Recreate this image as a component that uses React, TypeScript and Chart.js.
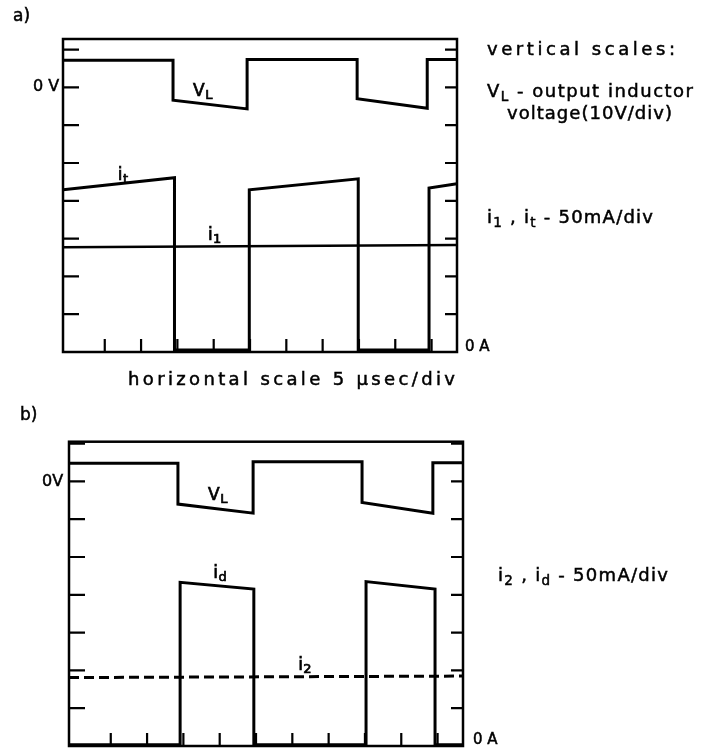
import React, { useEffect, useLayoutEffect, useRef } from "react";
import { Chart, registerables } from "chart.js";
Chart.register(...registerables);

// time axis in divisions (5 µs/div), vertical axis in divisions
const xTicks = [1, 2, 3, 4, 5, 6, 7, 8, 9, 10];
const yTicks = [1, 2, 3, 4, 5, 6, 7, 8];
const xMin = -0.15;
const xMax = 10.7;

// panel a) : V_L, i_t, i_1
const aVLTime = [-0.15, 2.88, 2.88, 4.92, 4.92, 7.95, 7.95, 9.88, 9.88, 10.7];
const aVLValue = [7.72, 7.72, 6.66, 6.43, 7.74, 7.74, 6.7, 6.45, 7.74, 7.74];
const aItTime = [-0.15, 2.92, 2.92, 4.98, 4.98, 7.98, 7.98, 9.93, 9.93, 10.7];
const aItValue = [4.29, 4.61, 0.05, 0.05, 4.29, 4.58, 0.05, 0.05, 4.34, 4.45];
const aI1Time = [-0.15, 10.7];
const aI1Value = [2.77, 2.83];

// panel b) : V_L, i_d, i_2
const bVLTime = [-0.15, 2.85, 2.85, 4.92, 4.92, 7.92, 7.92, 9.87, 9.87, 10.7];
const bVLValue = [7.48, 7.48, 6.4, 6.16, 7.52, 7.52, 6.44, 6.16, 7.49, 7.49];
const bIdTime = [-0.15, 2.91, 2.91, 4.94, 4.94, 8.03, 8.03, 9.93, 9.93, 10.7];
const bIdValue = [0.03, 0.03, 4.33, 4.15, 0.03, 0.03, 4.35, 4.15, 0.03, 0.03];
const bI2Time = [-0.15, 10.7];
const bI2Value = [1.81, 1.85];

// curve labels (data coordinates)
const aLabelMain = ["V", "i", "i"];
const aLabelSub = ["L", "t", "1"];
const aLabelX = [3.43, 1.36, 3.84];
const aLabelY = [6.77, 4.55, 2.96];
const bLabelMain = ["V", "i", "i"];
const bLabelSub = ["L", "d", "2"];
const bLabelX = [3.68, 3.82, 6.16];
const bLabelY = [6.51, 4.44, 2.01];

const FONT = '"DejaVu Sans", "Liberation Sans", sans-serif';

function pts(t: number[], v: number[]) {
  return t.map((x, i) => ({ x, y: v[i] }));
}

function makeFramePlugin(main: string[], sub: string[], lx: number[], ly: number[]) {
  return {
    id: "frameTicks",
    afterDatasetsDraw(chart: any) {
      const { ctx, chartArea, scales } = chart;
      const { left, right, top, bottom } = chartArea;
      const x = scales.x;
      const y = scales.y;
      ctx.save();
      ctx.strokeStyle = "#000";
      ctx.lineWidth = 2.5;
      ctx.strokeRect(left, top, right - left, bottom - top);
      ctx.lineWidth = 2.2;
      ctx.beginPath();
      yTicks.forEach((v) => {
        const py = y.getPixelForValue(v);
        ctx.moveTo(left, py);
        ctx.lineTo(left + 16, py);
        ctx.moveTo(right, py);
        ctx.lineTo(right - 12, py);
      });
      xTicks.forEach((v) => {
        const px = x.getPixelForValue(v);
        ctx.moveTo(px, bottom);
        ctx.lineTo(px, bottom - 13);
      });
      ctx.stroke();
      ctx.fillStyle = "#000";
      ctx.lineWidth = 0.7;
      ctx.textBaseline = "alphabetic";
      main.forEach((m, i) => {
        const px = x.getPixelForValue(lx[i]);
        const py = y.getPixelForValue(ly[i]);
        ctx.font = `17px ${FONT}`;
        ctx.fillText(m, px, py);
        ctx.strokeText(m, px, py);
        const w = ctx.measureText(m).width;
        ctx.font = `13px ${FONT}`;
        ctx.fillText(sub[i], px + w + 0.5, py + 3);
        ctx.strokeText(sub[i], px + w + 0.5, py + 3);
      });
      ctx.restore();
    },
  };
}

function Panel(props: {
  top: number;
  height: number;
  padding: { left: number; right: number; top: number; bottom: number };
  yMax: number;
  datasets: any[];
  main: string[];
  sub: string[];
  lx: number[];
  ly: number[];
}) {
  const ref = useRef<HTMLCanvasElement>(null);
  useEffect(() => {
    if (!ref.current) return;
    const chart = new Chart(ref.current, {
      type: "line",
      data: { datasets: props.datasets },
      options: {
        responsive: false,
        animation: false,
        devicePixelRatio: 1,
        layout: { padding: props.padding },
        plugins: { legend: { display: false }, tooltip: { enabled: false } },
        scales: {
          x: { type: "linear", min: xMin, max: xMax, display: false },
          y: { type: "linear", min: 0, max: props.yMax, display: false },
        },
        elements: { point: { radius: 0 }, line: { tension: 0 } },
      },
      plugins: [makeFramePlugin(props.main, props.sub, props.lx, props.ly)],
    } as any);
    return () => chart.destroy();
  }, []);
  return (
    <canvas
      ref={ref}
      width={711}
      height={props.height}
      style={{ position: "absolute", left: 0, top: props.top, width: 711, height: props.height }}
    />
  );
}

function FitText(props: { x: number; baseline: number; size: number; width?: number; children: any }) {
  const ref = useRef<HTMLDivElement>(null);
  useLayoutEffect(() => {
    const el = ref.current;
    if (!el || !props.width) return;
    el.style.letterSpacing = "0px";
    const natural = el.getBoundingClientRect().width;
    const n = (el.textContent || "").length;
    if (n > 1) el.style.letterSpacing = (props.width - natural) / (n - 1) + "px";
  }, [props.width]);
  return (
    <div
      ref={ref}
      style={{
        position: "absolute",
        left: props.x,
        top: props.baseline - 0.846 * props.size,
        fontSize: props.size,
        lineHeight: 1,
        whiteSpace: "nowrap",
        fontFamily: FONT,
        color: "#000",
        WebkitTextStroke: "0.5px #000",
      }}
    >
      {props.children}
    </div>
  );
}

const Sub = (p: { children: any }) => (
  <span style={{ fontSize: "0.75em", position: "relative", top: "0.3em" }}>{p.children}</span>
);

const line = (t: number[], v: number[], w: number, dash?: number[]) => ({
  data: pts(t, v),
  borderColor: "#000",
  backgroundColor: "#000",
  borderWidth: w,
  borderDash: dash || [],
  fill: false,
  pointRadius: 0,
});

export default function App() {
  const aSets = [line(aVLTime, aVLValue, 3), line(aItTime, aItValue, 3), line(aI1Time, aI1Value, 2.4)];
  const bSets = [line(bVLTime, bVLValue, 3), line(bIdTime, bIdValue, 3), line(bI2Time, bI2Value, 3, [10, 5])];
  return (
    <div style={{ position: "absolute", left: 0, top: 0, width: 711, height: 748, background: "#fff", overflow: "hidden" }}>
      <Panel
        top={0}
        height={372}
        padding={{ left: 63, right: 254, top: 39, bottom: 20 }}
        yMax={8.28}
        datasets={aSets}
        main={aLabelMain}
        sub={aLabelSub}
        lx={aLabelX}
        ly={aLabelY}
      />
      <Panel
        top={380}
        height={368}
        padding={{ left: 69, right: 248, top: 61.7, bottom: 2 }}
        yMax={8.05}
        datasets={bSets}
        main={bLabelMain}
        sub={bLabelSub}
        lx={bLabelX}
        ly={bLabelY}
      />
      <FitText x={13} baseline={21} size={17}>a)</FitText>
      <FitText x={33} baseline={92} size={16}>0 V</FitText>
      <FitText x={465} baseline={352} size={15}>0 A</FitText>
      <FitText x={128} baseline={385} size={18} width={327}>horizontal scale 5 μsec/div</FitText>
      <FitText x={487} baseline={55} size={18} width={188}>vertical scales:</FitText>
      <FitText x={487} baseline={97} size={18} width={206}>
        V<Sub>L</Sub> - output inductor
      </FitText>
      <FitText x={507} baseline={119} size={18} width={165}>voltage(10V/div)</FitText>
      <FitText x={487} baseline={223} size={18} width={166}>
        i<Sub>1</Sub> , i<Sub>t</Sub> - 50mA/div
      </FitText>
      <FitText x={20} baseline={420} size={17}>b)</FitText>
      <FitText x={42} baseline={487} size={16}>0V</FitText>
      <FitText x={498} baseline={581} size={18} width={170}>
        i<Sub>2</Sub> , i<Sub>d</Sub> - 50mA/div
      </FitText>
      <FitText x={473} baseline={745} size={15}>0 A</FitText>
    </div>
  );
}
